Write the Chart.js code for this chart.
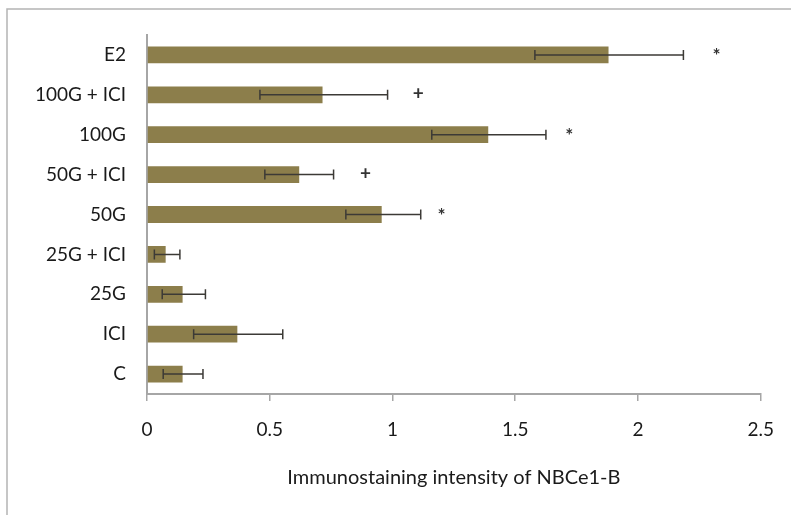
<!DOCTYPE html>
<html>
<head>
<meta charset="utf-8">
<script src="https://cdn.jsdelivr.net/npm/chart.js@4/dist/chart.umd.min.js"></script>
<style>
  html, body { margin: 0; padding: 0; background: #fff; }
  #wrap { width: 791px; height: 515px; position: relative; }
</style>
</head>
<body>
<div id="wrap"><canvas id="chart"></canvas></div>
<script>
// Groups from top to bottom as in the figure
const groups = ["E2", "100G + ICI", "100G", "50G + ICI", "50G", "25G + ICI", "25G", "ICI", "C"];
// Mean immunostaining intensity
const means = [1.88, 0.715, 1.39, 0.62, 0.956, 0.076, 0.145, 0.368, 0.145];
// Error bar low / high ends
const errLow = [1.58, 0.46, 1.16, 0.48, 0.81, 0.03, 0.062, 0.19, 0.066];
const errHigh = [2.185, 0.98, 1.625, 0.76, 1.115, 0.134, 0.238, 0.553, 0.228];
// Significance markers and where they sit on the value axis
const markers = ["*", "+", "*", "+", "*", "", "", "", ""];
const markerPos = [2.32, 1.105, 1.72, 0.89, 1.2, 0, 0, 0, 0];
const xTicks = [0, 0.5, 1, 1.5, 2, 2.5];

const FONT = "Lato, 'Open Sans', sans-serif";
const axisGray = "#a6a6a6";

// White background and the thin frame seen at the top and left
const framePlugin = {
  id: "frame",
  beforeDraw(chart) {
    const ctx = chart.ctx;
    ctx.save();
    ctx.fillStyle = "#fff";
    ctx.fillRect(0, 0, chart.width, chart.height);
    ctx.strokeStyle = "#b4b4b4";
    ctx.lineWidth = 1.5;
    ctx.beginPath();
    ctx.moveTo(7, chart.height);
    ctx.lineTo(7, 9);
    ctx.lineTo(chart.width, 9);
    ctx.stroke();
    ctx.restore();
  },
};

// Error bars and * / + markers
const errorBarPlugin = {
  id: "errorBars",
  afterDatasetsDraw(chart) {
    const ctx = chart.ctx;
    const x = chart.scales.x;
    const y = chart.scales.y;
    ctx.save();
    ctx.strokeStyle = "#3c3a36";
    ctx.lineWidth = 1.5;
    groups.forEach((g, i) => {
      const yc = y.getPixelForValue(i);
      const x0 = x.getPixelForValue(errLow[i]);
      const x1 = x.getPixelForValue(errHigh[i]);
      ctx.beginPath();
      ctx.moveTo(x0, yc);
      ctx.lineTo(x1, yc);
      ctx.moveTo(x0, yc - 5);
      ctx.lineTo(x0, yc + 5);
      ctx.moveTo(x1, yc - 5);
      ctx.lineTo(x1, yc + 5);
      ctx.stroke();
    });
    ctx.fillStyle = "#333";
    ctx.textAlign = "center";
    ctx.textBaseline = "middle";
    ctx.font = "bold 19px " + FONT;
    markers.forEach((m, i) => {
      if (!m) return;
      ctx.fillText(m, x.getPixelForValue(markerPos[i]), y.getPixelForValue(i) + (m === "*" ? 1 : -1));
    });
    ctx.restore();
  },
};

new Chart(document.getElementById("chart"), {
  type: "bar",
  data: {
    labels: groups,
    datasets: [
      {
        data: means,
        backgroundColor: "#8c7e4b",
        borderWidth: 0,
        categoryPercentage: 1,
        barPercentage: 0.42,
      },
    ],
  },
  options: {
    indexAxis: "y",
    responsive: true,
    maintainAspectRatio: false,
    animation: false,
    layout: { padding: { left: 0, top: 35, right: 28, bottom: 0 } },
    plugins: {
      legend: { display: false },
      tooltip: { enabled: false },
    },
    scales: {
      x: {
        min: 0,
        max: 2.5,
        afterBuildTicks: (scale) => {
          scale.ticks = xTicks.map((v) => ({ value: v }));
        },
        afterFit: (scale) => {
          scale.height = 121;
        },
        grid: {
          drawOnChartArea: false,
          drawTicks: true,
          tickLength: 7,
          color: axisGray,
          lineWidth: 1.5,
        },
        border: { color: axisGray, width: 2 },
        ticks: {
          padding: 17,
          color: "#1a1a1a",
          font: { family: FONT, size: 19 },
          callback: (v) => String(v),
        },
        title: {
          display: true,
          text: "Immunostaining intensity of NBCe1-B",
          color: "#1a1a1a",
          font: { family: FONT, size: 20 },
          padding: { top: 0, bottom: 25 },
        },
      },
      y: {
        afterFit: (scale) => {
          scale.width = 147;
        },
        grid: {
          drawOnChartArea: false,
          drawTicks: false,
          color: axisGray,
        },
        border: { color: axisGray, width: 2 },
        ticks: {
          padding: 21,
          color: "#1a1a1a",
          font: { family: FONT, size: 19 },
        },
      },
    },
  },
  plugins: [framePlugin, errorBarPlugin],
});
</script>
</body>
</html>
